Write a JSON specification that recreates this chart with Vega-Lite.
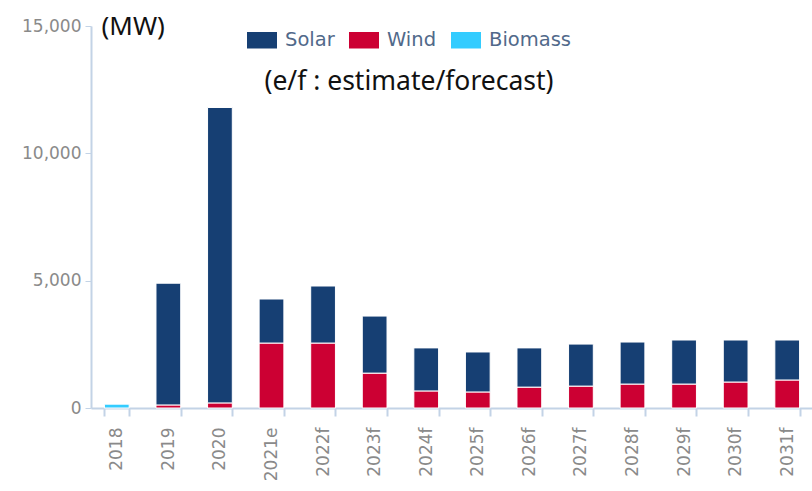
{
  "$schema": "https://vega.github.io/schema/vega-lite/v6.json",
  "width": 722,
  "height": 382,
  "autosize": "none",
  "padding": {"left": 91, "top": 26, "right": 0, "bottom": 83},
  "background": "white",
  "config": {"view": {"stroke": null}, "font": "Noto Sans"},
  "data": {
    "values": [
      {"year": "2018", "type": "Biomass", "value": 150},
      {"year": "2019", "type": "Wind", "value": 120},
      {"year": "2019", "type": "Solar", "value": 4780},
      {"year": "2020", "type": "Wind", "value": 200},
      {"year": "2020", "type": "Solar", "value": 11600},
      {"year": "2021e", "type": "Wind", "value": 2550},
      {"year": "2021e", "type": "Solar", "value": 1730},
      {"year": "2022f", "type": "Wind", "value": 2550},
      {"year": "2022f", "type": "Solar", "value": 2240},
      {"year": "2023f", "type": "Wind", "value": 1370},
      {"year": "2023f", "type": "Solar", "value": 2240},
      {"year": "2024f", "type": "Wind", "value": 670},
      {"year": "2024f", "type": "Solar", "value": 1690},
      {"year": "2025f", "type": "Wind", "value": 630},
      {"year": "2025f", "type": "Solar", "value": 1570},
      {"year": "2026f", "type": "Wind", "value": 820},
      {"year": "2026f", "type": "Solar", "value": 1540},
      {"year": "2027f", "type": "Wind", "value": 860},
      {"year": "2027f", "type": "Solar", "value": 1650},
      {"year": "2028f", "type": "Wind", "value": 940},
      {"year": "2028f", "type": "Solar", "value": 1650},
      {"year": "2029f", "type": "Wind", "value": 940},
      {"year": "2029f", "type": "Solar", "value": 1730},
      {"year": "2030f", "type": "Wind", "value": 1020},
      {"year": "2030f", "type": "Solar", "value": 1650},
      {"year": "2031f", "type": "Wind", "value": 1100},
      {"year": "2031f", "type": "Solar", "value": 1570}
    ]
  },
  "mark": {"type": "bar", "stroke": "white", "strokeWidth": 1},
  "encoding": {
    "x": {
      "field": "year",
      "type": "nominal",
      "sort": null,
      "scale": {"paddingInner": 0.52, "paddingOuter": 0.26},
      "axis": {
        "title": null,
        "labelAngle": -90,
        "labelFont": "DejaVu Sans",
        "labelFontSize": 17,
        "labelColor": "#8a8a8a",
        "labelPadding": 11,
        "tickBand": "extent",
        "tickSize": 8,
        "tickColor": "#c3d3e6",
        "domainColor": "#c3d3e6",
        "domainWidth": 2,
        "tickWidth": 2
      }
    },
    "y": {
      "field": "value",
      "type": "quantitative",
      "stack": "zero",
      "scale": {"domain": [0, 15000], "nice": false},
      "axis": {
        "values": [0, 5000, 10000, 15000],
        "format": ",d",
        "grid": false,
        "title": "(MW)",
        "titleAngle": 0,
        "titleX": 10,
        "titleY": 0,
        "titleAlign": "left",
        "titleBaseline": "middle",
        "titleFontSize": 26,
        "titleFontWeight": "normal",
        "titleColor": "#111111",
        "titleFont": "Noto Sans",
        "labelFont": "DejaVu Sans",
        "labelFontSize": 17,
        "labelColor": "#8a8a8a",
        "labelPadding": 4,
        "tickSize": 6,
        "tickColor": "#c3d3e6",
        "domainColor": "#c3d3e6",
        "domainWidth": 2
      }
    },
    "color": {
      "field": "type",
      "type": "nominal",
      "scale": {"domain": ["Solar", "Wind", "Biomass"], "range": ["#163f73", "#cc0033", "#33ccff"]},
      "legend": {
        "orient": "none",
        "direction": "horizontal",
        "legendX": 156,
        "legendY": -1,
        "title": "(e/f : estimate/forecast)",
        "titleLimit": 500,
        "titleOrient": "bottom",
        "titleAnchor": "middle",
        "titleFontSize": 26.5,
        "titleFontWeight": "normal",
        "titleColor": "#111111",
        "titleFont": "Noto Sans",
        "titlePadding": 19,
        "symbolType": "M-1,-0.55H1V0.55H-1Z",
        "symbolSize": 900,
        "symbolStrokeWidth": 0,
        "symbolOpacity": 1,
        "labelFont": "DejaVu Sans",
        "labelFontSize": 19.5,
        "labelColor": "#51698a",
        "labelOffset": 8,
        "columnPadding": 14
      }
    },
    "order": {"field": "type", "sort": "descending"}
  }
}
